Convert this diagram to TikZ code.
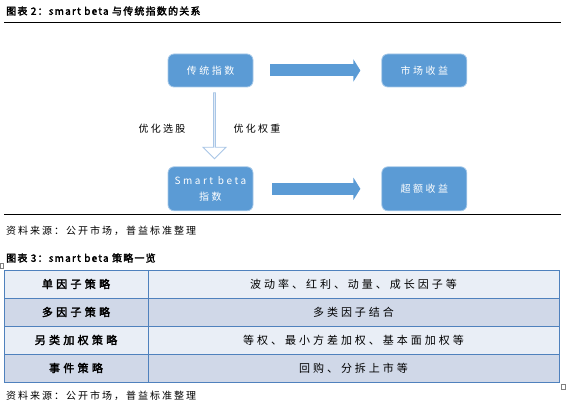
\documentclass[tikz,border=0pt]{standalone}
\usepackage{fontspec}
\setmainfont{Noto Sans CJK SC}
\newfontfamily\cjkb{Noto Sans CJK SC}[FakeBold=2.5]
\usetikzlibrary{positioning,arrows.meta,calc,shapes.arrows}
\definecolor{lanse}{HTML}{5B9BD5}
\definecolor{biankuang}{HTML}{4F81BD}
\definecolor{hangA}{HTML}{E9EEF6}
\definecolor{hangB}{HTML}{D0D8E8}
\definecolor{kongxin}{HTML}{A9C6E6}
\tikzset{
  kuang/.style={rectangle,rounded corners=6pt,fill=lanse,draw=lanse!55!white,line width=0.8pt,minimum width=85pt,minimum height=33pt,inner sep=2pt,text=white,align=center,font=\fontsize{10}{16}\selectfont\addfontfeature{LetterSpace=25}},
  jian/.style={line width=12pt,draw=lanse,-{Triangle[length=7pt,width=22pt]}},
  kong/.style={single arrow,draw=kongxin,fill=white,line width=0.9pt,minimum width=23pt,minimum height=66pt,single arrow head extend=6pt,shape border rotate=270,inner sep=0pt},
  wenzi/.style={font=\fontsize{10}{12}\selectfont\addfontfeature{LetterSpace=22},inner sep=0pt},
  biaoti/.style={anchor=west,inner sep=0pt,font=\cjkb\fontsize{10}{12}\selectfont\addfontfeature{LetterSpace=12}},
  laiyuan/.style={anchor=west,inner sep=0pt,font=\fontsize{10}{12}\selectfont\addfontfeature{LetterSpace=20}},
  biaotou/.style={inner sep=0pt,font=\cjkb\fontsize{11}{13}\selectfont\addfontfeature{LetterSpace=30}},
  biaonei/.style={inner sep=0pt,font=\fontsize{11}{13}\selectfont\addfontfeature{LetterSpace=27}},
  xian/.style={draw=biankuang,line width=0.8pt},
}
\begin{document}
\begin{tikzpicture}[x=1pt,y=-1pt]
  \useasboundingbox (0,0) rectangle (566,409);
  % figure 2
  \node[biaoti] (tu2) at (6,11) {图表 2：smart beta 与传统指数的关系};
  \draw[line width=1pt] (4,23) -- (561,23);
  \node[kuang] (ctzs) at (210.5,70.5) {传统指数};
  \node[kuang,right=128pt of ctzs] (scsy) {市场收益};
  \node[kuang,minimum height=44pt,below=79pt of ctzs] (sbzs) {Smart beta\\指数};
  \node[kuang,minimum height=44pt,right=128pt of sbzs] (cesy) {超额收益};
  \draw[jian,shorten <=17pt,shorten >=21pt] (ctzs) -- (scsy);
  \draw[jian,shorten <=19pt,shorten >=21pt] (sbzs) -- (cesy);
  \node[kong] (youhua) at ($(ctzs.south)!0.5!(sbzs.north)+(4,-1.5)$) {};
  \node[wenzi] (xg) at (162,129) {优化选股};
  \node[wenzi] (qz) at (257,129) {优化权重};
  \draw[line width=1pt] (4,215) -- (561,215);
  \node[laiyuan] (ly1) at (6,231) {资料来源：公开市场，普益标准整理};
  % figure 3
  \node[biaoti] (tu3) at (6,258) {图表 3：smart beta 策略一览};
  \foreach \i/\se/\ming/\nei in {0/hangA/单因子策略/波动率、红利、动量、成长因子等,
      1/hangB/多因子策略/多类因子结合,
      2/hangA/另类加权策略/等权、最小方差加权、基本面加权等,
      3/hangB/事件策略/回购、分拆上市等}{
    \fill[\se] (4,{270+28*\i}) rectangle (559,{298+28*\i});
    \node[biaotou] (ce\i) at (76,{284+28*\i}) {\ming};
    \node[biaonei] (nr\i) at (353.5,{284+28*\i}) {\nei};
  }
  \draw[xian] (4,270) rectangle (559,382);
  \draw[xian] (148,270) -- (148,382);
  \foreach \y in {298,326,354} \draw[xian] (4,\y) -- (559,\y);
  \draw[gray,line width=0.5pt] (0.3,263) rectangle (3.5,268);
  \draw[gray,line width=0.5pt] (561,384) rectangle (565.5,389);
  \node[laiyuan] (ly2) at (6,396) {资料来源：公开市场，普益标准整理};
\end{tikzpicture}
\end{document}
